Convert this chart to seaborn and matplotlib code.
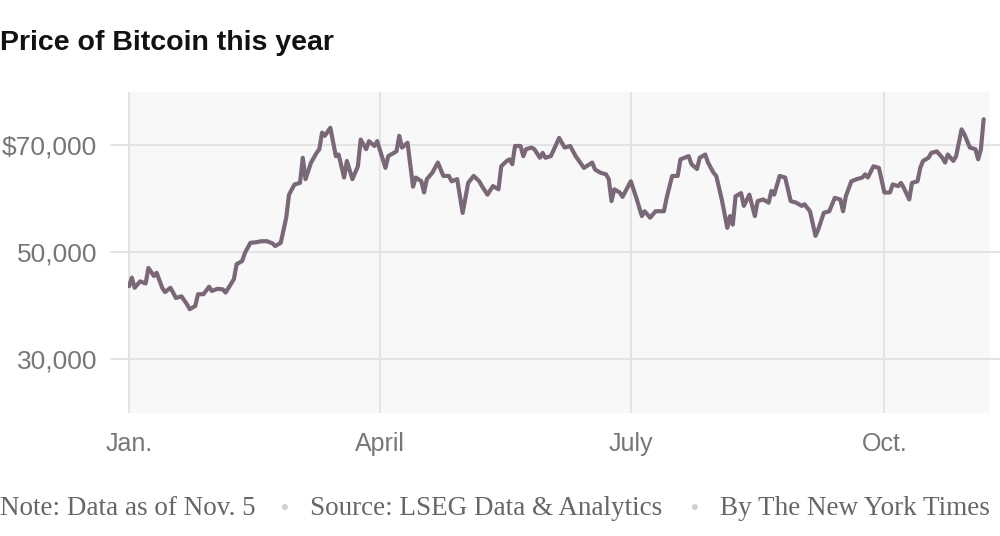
# Bitcoin price in 2024

import matplotlib
matplotlib.use("Agg")
import matplotlib.pyplot as plt
import matplotlib.dates as mdates
import pandas as pd
import seaborn as sns

dates = [
    "2024-01-01", "2024-01-02", "2024-01-03", "2024-01-05", "2024-01-07", "2024-01-08",
    "2024-01-10", "2024-01-11", "2024-01-13", "2024-01-14", "2024-01-16", "2024-01-18",
    "2024-01-20", "2024-01-22", "2024-01-23", "2024-01-25", "2024-01-26", "2024-01-28",
    "2024-01-30", "2024-01-31", "2024-02-02", "2024-02-04", "2024-02-05", "2024-02-08",
    "2024-02-09", "2024-02-11", "2024-02-12", "2024-02-14", "2024-02-16", "2024-02-18",
    "2024-02-20", "2024-02-22", "2024-02-23", "2024-02-25", "2024-02-27", "2024-02-28",
    "2024-03-01", "2024-03-03", "2024-03-04", "2024-03-05", "2024-03-07", "2024-03-09",
    "2024-03-10", "2024-03-11", "2024-03-12", "2024-03-14", "2024-03-16", "2024-03-17",
    "2024-03-19", "2024-03-20", "2024-03-22", "2024-03-24", "2024-03-25", "2024-03-27",
    "2024-03-28", "2024-03-30", "2024-03-31", "2024-04-03", "2024-04-04", "2024-04-07",
    "2024-04-08", "2024-04-09", "2024-04-11", "2024-04-13", "2024-04-14", "2024-04-16",
    "2024-04-17", "2024-04-18", "2024-04-20", "2024-04-22", "2024-04-24", "2024-04-26",
    "2024-04-27", "2024-04-29", "2024-05-01", "2024-05-03", "2024-05-05", "2024-05-07",
    "2024-05-08", "2024-05-10", "2024-05-12", "2024-05-14", "2024-05-15", "2024-05-17",
    "2024-05-18", "2024-05-19", "2024-05-20", "2024-05-22", "2024-05-23", "2024-05-24",
    "2024-05-26", "2024-05-27", "2024-05-29", "2024-05-30", "2024-05-31", "2024-06-02",
    "2024-06-05", "2024-06-07", "2024-06-09", "2024-06-11", "2024-06-14", "2024-06-17",
    "2024-06-18", "2024-06-20", "2024-06-22", "2024-06-23", "2024-06-24", "2024-06-25",
    "2024-06-27", "2024-06-28", "2024-07-01", "2024-07-03", "2024-07-05", "2024-07-06",
    "2024-07-08", "2024-07-10", "2024-07-13", "2024-07-14", "2024-07-16", "2024-07-18",
    "2024-07-19", "2024-07-22", "2024-07-23", "2024-07-25", "2024-07-26", "2024-07-28",
    "2024-07-29", "2024-07-31", "2024-08-01", "2024-08-03", "2024-08-05", "2024-08-06",
    "2024-08-07", "2024-08-08", "2024-08-10", "2024-08-11", "2024-08-13", "2024-08-15",
    "2024-08-16", "2024-08-18", "2024-08-20", "2024-08-21", "2024-08-22", "2024-08-24",
    "2024-08-26", "2024-08-28", "2024-08-30", "2024-09-01", "2024-09-02", "2024-09-04",
    "2024-09-06", "2024-09-07", "2024-09-09", "2024-09-11", "2024-09-13", "2024-09-15",
    "2024-09-16", "2024-09-17", "2024-09-19", "2024-09-21", "2024-09-23", "2024-09-24",
    "2024-09-25", "2024-09-27", "2024-09-29", "2024-10-01", "2024-10-03", "2024-10-04",
    "2024-10-06", "2024-10-07", "2024-10-08", "2024-10-10", "2024-10-11", "2024-10-13",
    "2024-10-14", "2024-10-15", "2024-10-17", "2024-10-18", "2024-10-20", "2024-10-22",
    "2024-10-23", "2024-10-24", "2024-10-26", "2024-10-27", "2024-10-29", "2024-10-30",
    "2024-11-01", "2024-11-03", "2024-11-04", "2024-11-05", "2024-11-06",
]

prices = [
    43700, 45300, 43400, 44600, 44200, 47100,
    45600, 46200, 43400, 42600, 43400, 41500,
    41800, 40300, 39400, 40000, 42200, 42200,
    43600, 42800, 43200, 43100, 42500, 45000,
    47800, 48400, 49900, 51800, 51900, 52100,
    52100, 51700, 51200, 51800, 56500, 60800,
    62700, 63000, 67700, 63700, 66800, 68600,
    69300, 72400, 71800, 73300, 68000, 68300,
    64000, 67100, 63700, 66100, 71100, 69300,
    70800, 69900, 70800, 65800, 68000, 68900,
    71800, 69600, 70500, 62300, 64000, 63300,
    61200, 63700, 64900, 66800, 64300, 64300,
    63300, 63700, 57400, 63000, 64300, 63300,
    62400, 60800, 62400, 61800, 66100, 67100,
    67400, 66500, 69900, 69900, 68000, 69300,
    69600, 69300, 67700, 68600, 67700, 68000,
    71400, 69600, 69900, 68000, 65800, 66800,
    65500, 64900, 64600, 63700, 59600, 61800,
    61200, 60400, 63300, 60200, 56800, 57700,
    56500, 57700, 57700, 60200, 64300, 64300,
    67400, 68000, 66500, 65600, 67700, 68300,
    66800, 64900, 64300, 59900, 54600, 56800,
    55200, 60500, 61100, 58700, 60800, 56800,
    59600, 59900, 59300, 61500, 60800, 64300,
    64000, 59600, 59300, 58700, 59000, 57700,
    53100, 54300, 57400, 57700, 60200, 59900,
    57700, 60500, 63300, 63700, 64000, 64600,
    64000, 66100, 65800, 61200, 61200, 62700,
    62400, 63000, 62100, 59900, 63000, 63300,
    65800, 67100, 67700, 68600, 68900, 67700,
    66800, 68300, 67100, 68000, 73000, 72100,
    69600, 69300, 67400, 69300, 74900,
]

y_ticks = [30000, 50000, 70000]
y_tick_labels = ["30,000", "50,000", "$70,000"]
month_ticks = ["2024-01-01", "2024-04-01", "2024-07-01", "2024-10-01"]
month_labels = ["Jan.", "April", "July", "Oct."]

df = pd.DataFrame({"date": pd.to_datetime(dates), "price": prices})

sns.set_theme(style="white")
plt.rcParams["font.family"] = ["Liberation Sans", "DejaVu Sans"]

fig = plt.figure(figsize=(10, 5.36), dpi=100)
ax = fig.add_axes([0.128, 0.2295, 0.862, 0.599])
ax.set_facecolor("#f8f8f8")

grid_col = "#e3e3e3"
for v in y_ticks:
    ax.axhline(v, xmin=-0.02, xmax=1.012, color=grid_col, lw=1.4, clip_on=False, zorder=1)
for m in pd.to_datetime(month_ticks):
    ax.axvline(m, color=grid_col, lw=1.4, zorder=1)

sns.lineplot(data=df, x="date", y="price", ax=ax, color="#7a6878", lw=3.0, zorder=3)

x0 = mdates.date2num(pd.Timestamp("2024-01-01")) - 0.4
ax.set_xlim(x0, x0 + 312.7)
ax.set_ylim(20000, 80000)

ax.set_yticks(y_ticks)
ax.set_yticklabels(y_tick_labels)
ax.set_xticks(pd.to_datetime(month_ticks))
ax.set_xticklabels(month_labels)
ax.tick_params(axis="y", length=0, pad=22, labelsize=19, labelcolor="#777777")
ax.tick_params(axis="x", length=0, pad=14, labelsize=18, labelcolor="#777777")
ax.set_xlabel("")
ax.set_ylabel("")
for s in ax.spines.values():
    s.set_visible(False)

fig.text(0.0, 0.92, "Price of Bitcoin this year", fontsize=20.5, fontweight="bold",
         color="#121212", ha="left", va="center")

foot = dict(fontsize=19.5, color="#666666", va="center", family=["Liberation Serif", "DejaVu Serif"])
fig.text(0.0, 0.052, "Note: Data as of Nov. 5", ha="left", **foot)
fig.text(0.31, 0.052, "Source: LSEG Data & Analytics", ha="left", **foot)
fig.text(0.99, 0.052, "By The New York Times", ha="right", **foot)
fig.text(0.284, 0.052, "\u2022", ha="center", fontsize=16, color="#d0d0d0", va="center")
fig.text(0.694, 0.052, "\u2022", ha="center", fontsize=16, color="#d0d0d0", va="center")

fig.savefig("out.png", dpi=100)
